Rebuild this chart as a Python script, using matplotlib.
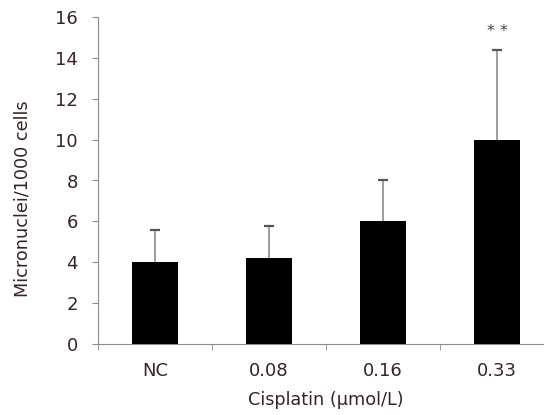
import matplotlib
matplotlib.use("Agg")
import matplotlib.pyplot as plt

categories = ["NC", "0.08", "0.16", "0.33"]
values = [4.0, 4.2, 6.0, 10.0]
errors = [1.6, 1.57, 2.0, 4.4]
yticks = [0, 2, 4, 6, 8, 10, 12, 14, 16]
annot = ["", "", "", "* *"]

txt = "#3a2323"
grey = "#8c8c8c"

fig = plt.figure(figsize=(5.44, 4.15), dpi=100)
ax = fig.add_axes([98/544, (415-344)/415, 456/544, (344-17)/415])
x = list(range(len(categories)))
ax.bar(x, values, width=0.4, color="black", zorder=3)
tops = [v + e for v, e in zip(values, errors)]
ax.vlines(x, values, tops, color=grey, linewidth=1.2, zorder=2)
ax.plot(x, tops, linestyle="none", marker="_", markersize=7, markeredgewidth=1.6, color="#555555", zorder=2)
for i, a in enumerate(annot):
    if a:
        ax.text(i, tops[i] + 0.5, a, ha="center", va="bottom", fontsize=11.5, color="#444444")
ax.set_xlim(-0.5, 3.5)
ax.set_ylim(0, 16)
ax.set_yticks(yticks)
ax.set_xticks(x)
ax.set_xticklabels(categories)
ax.set_xticks([-0.5, 0.5, 1.5, 2.5, 3.5], minor=True)
ax.tick_params(axis="x", which="major", length=0, pad=13, labelsize=13, colors=txt)
ax.tick_params(axis="x", which="minor", length=4, color=grey, direction="out")
ax.tick_params(axis="y", length=4, color=grey, labelsize=13, labelcolor=txt, pad=10.5)
for s in ["top", "right"]:
    ax.spines[s].set_visible(False)
for s in ["left", "bottom"]:
    ax.spines[s].set_color(grey)
ax.set_ylabel("Micronuclei/1000 cells", fontsize=12.7, color=txt)
ax.yaxis.set_label_coords(-(98 - 23) / 456, (344 - 198.5) / 327)
ax.set_xlabel("Cisplatin (\u03bcmol/L)", fontsize=12.7, color=txt)
ax.xaxis.set_label_coords(0.5, -(400 - 344) / 327)
ax.xaxis.label.set_va("center")
ax.yaxis.label.set_va("center")
fig.savefig("out.png", dpi=100)
